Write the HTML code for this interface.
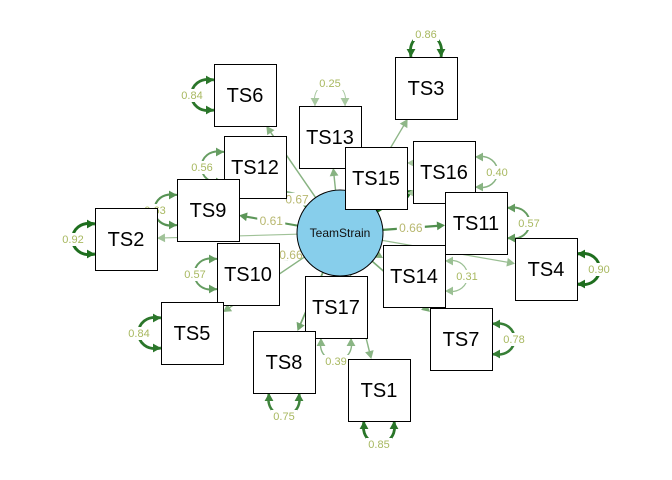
<!DOCTYPE html>
<html><head><meta charset="utf-8"><style>
html,body{margin:0;padding:0;background:#fff;width:672px;height:480px;overflow:hidden}
svg{display:block}
text{font-family:"Liberation Sans",sans-serif}
</style></head><body>
<svg id="s" width="672" height="480" xmlns="http://www.w3.org/2000/svg"></svg>
<script>
const S=document.getElementById('s');const NS='http://www.w3.org/2000/svg';
function el(t,a,txt){const e=document.createElementNS(NS,t);for(const k in a)e.setAttribute(k,a[k]);if(txt!=null)e.textContent=txt;S.appendChild(e);return e;}
const C={x:340,y:233,r:43};
const B=[
['TS6',214,64,0.40,'l',0.84],['TS3',395,57,0.37,'t',0.86],['TS13',299,106,0.40,'t',0.25],
['TS12',224,136,0.67,'l',0.56],['TS15',345,147,0.77,'r',0.00],['TS16',413,141,0.90,'r',0.40],
['TS9',177,179,0.61,'l',0.63],['TS2',95,208,0.29,'l',0.92],['TS11',445,192,0.66,'r',0.57],
['TS10',217,243,0.66,'l',0.57],['TS14',383,245,0.42,'r',0.31],['TS4',515,238,0.32,'r',0.90],
['TS17',305,276,0.45,'b',0.39],['TS5',161,302,0.40,'l',0.84],['TS7',430,308,0.47,'r',0.78],
['TS8',253,331,0.50,'b',0.75],['TS1',348,359,0.39,'b',0.85]];
const W=62,H=62;
function col(v){const a=[168,200,160],b=[30,110,30];const t=Math.min(1,Math.max(0,(v-0.25)/0.65));return 'rgb('+a.map((c,i)=>Math.round(c+(b[i]-c)*t)).join(',')+')';}
function arrow(x,y,ang,c,sz){const s=sz,w=sz*0.55;const p=[[x,y],[x-s*Math.cos(ang)+w*Math.sin(ang),y-s*Math.sin(ang)-w*Math.cos(ang)],[x-s*Math.cos(ang)-w*Math.sin(ang),y-s*Math.sin(ang)+w*Math.cos(ang)]];el('polygon',{points:p.map(q=>q.join(',')).join(' '),fill:c});}
B.forEach(([n,x,y,v])=>{const cx=x+W/2,cy=y+H/2;const dx=cx-C.x,dy=cy-C.y;const L=Math.hypot(dx,dy);const ux=dx/L,uy=dy/L;
const sx=C.x+ux*C.r,sy=C.y+uy*C.r;const t=Math.min((W/2)/Math.abs(dx||1e-6),(H/2)/Math.abs(dy||1e-6));const ex=cx-dx*t,ey=cy-dy*t;
const c=col(v),w=1+3*Math.max(0,v-0.25);el('line',{x1:sx,y1:sy,x2:ex-ux*6,y2:ey-uy*6,stroke:c,'stroke-width':w});arrow(ex,ey,Math.atan2(dy,dx),c,8);
const mx=sx+(ex-sx)*0.45,my=sy+(ey-sy)*0.45;if(v>=0.6){el('rect',{x:mx-14,y:my-7,width:28,height:13,fill:'#fff'});el('text',{x:mx,y:my+4,'text-anchor':'middle','font-size':12,fill:'#b8b870'},v.toFixed(2));}});
B.forEach(([n,x,y,v,side,r])=>{const c=col(r),w=1+3*Math.max(0,r-0.25);let a,b,ctrl1,ctrl2,lab,an1,an2;const d=30;
if(side==='l'){a=[x,y+16];b=[x,y+H-16];ctrl1=[x-d,y+10];ctrl2=[x-d,y+H-10];lab=[x-22,y+H/2+4];an1=0;an2=0;}
if(side==='r'){a=[x+W,y+16];b=[x+W,y+H-16];ctrl1=[x+W+d,y+10];ctrl2=[x+W+d,y+H-10];lab=[x+W+22,y+H/2+4];an1=Math.PI;an2=Math.PI;}
if(side==='t'){a=[x+16,y];b=[x+W-16,y];ctrl1=[x+10,y-d];ctrl2=[x+W-10,y-d];lab=[x+W/2,y-19];an1=Math.PI/2;an2=Math.PI/2;}
if(side==='b'){a=[x+16,y+H];b=[x+W-16,y+H];ctrl1=[x+10,y+H+d];ctrl2=[x+W-10,y+H+d];lab=[x+W/2,y+H+27];an1=-Math.PI/2;an2=-Math.PI/2;}
el('path',{d:`M${a} C${ctrl1} ${ctrl2} ${b}`,fill:'none',stroke:c,'stroke-width':w});arrow(a[0],a[1],an1,c,8);arrow(b[0],b[1],an2,c,8);
el('rect',{x:lab[0]-13,y:lab[1]-10,width:26,height:13,fill:'#fff'});
el('text',{x:lab[0],y:lab[1],'text-anchor':'middle','font-size':11,fill:'#a8b860'},r.toFixed(2));});
el('circle',{cx:C.x,cy:C.y,r:C.r,fill:'#87ceeb',stroke:'#000','stroke-width':1});
el('text',{x:C.x,y:C.y+4,'text-anchor':'middle','font-size':12,fill:'#111'},'TeamStrain');
B.forEach(([n,x,y])=>{el('rect',{x:x+0.5,y:y+0.5,width:W,height:H,fill:'#fff',stroke:'#000','stroke-width':1});el('text',{x:x+W/2,y:y+H/2+7,'text-anchor':'middle','font-size':20,fill:'#000'},n);});
</script>
</body></html>
